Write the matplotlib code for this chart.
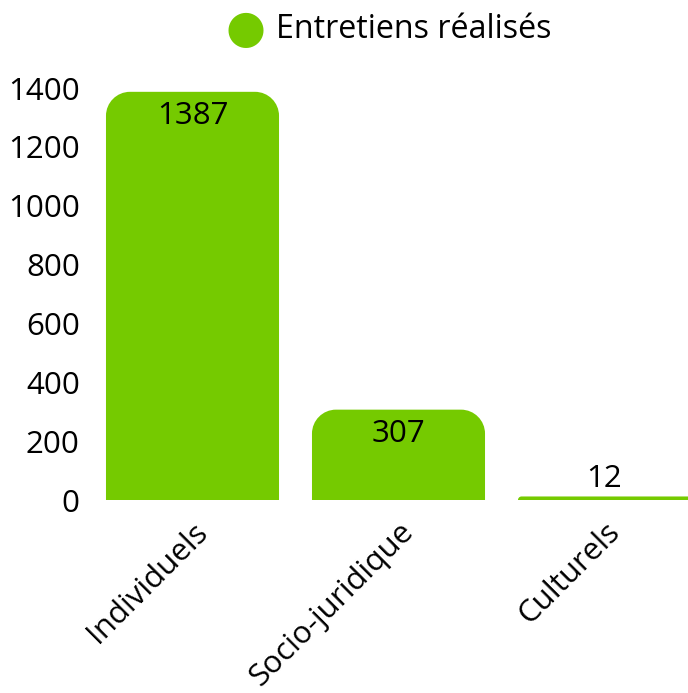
import matplotlib.pyplot as plt
from matplotlib.path import Path
from matplotlib.patches import PathPatch

plt.rcParams['font.family'] = ['Open Sans', 'DejaVu Sans']

categories = ['Individuels', 'Socio-juridique', 'Culturels']
values = [1387, 307, 12]
series_name = 'Entretiens réalisés'
green = '#75CA00'

W, H = 688, 693
fig = plt.figure(figsize=(W / 100, H / 100), dpi=100)

# axes box in pixels: left 89.5, bottom at y=500, top at y=88
left_px, right_px = 89.5, 688
ax = fig.add_axes([left_px / W, (H - 500) / H, (right_px - left_px) / W, (500 - 88) / H])
slot_px = 206
x_hi = -0.5 + (right_px - left_px) / slot_px
ax.set_xlim(-0.5, x_hi)
ax.set_ylim(0, 1400)

px_per_x = slot_px
px_per_y = 412 / 1400
bar_w = 0.84
radius_px = 24
fs = 22.5


def rounded_bar(x, h):
    x0, x1 = x - bar_w / 2, x + bar_w / 2
    r_px = min(radius_px, h * px_per_y)
    rx = r_px / px_per_x
    ry = r_px / px_per_y
    k = 0.5523
    verts = [
        (x0, 0), (x0, h - ry),
        (x0, h - ry + k * ry), (x0 + rx - k * rx, h), (x0 + rx, h),
        (x1 - rx, h),
        (x1 - rx + k * rx, h), (x1, h - ry + k * ry), (x1, h - ry),
        (x1, 0), (x0, 0),
    ]
    codes = [Path.MOVETO, Path.LINETO,
             Path.CURVE4, Path.CURVE4, Path.CURVE4,
             Path.LINETO,
             Path.CURVE4, Path.CURVE4, Path.CURVE4,
             Path.LINETO, Path.CLOSEPOLY]
    return PathPatch(Path(verts, codes), facecolor=green, edgecolor='none')


for i, v in enumerate(values):
    ax.add_patch(rounded_bar(i, v))
    if v * px_per_y > 40:
        ax.annotate(str(v), (i, v), xytext=(0, -6.5), textcoords='offset points',
                    ha='center', va='top', fontsize=fs)
    else:
        ax.annotate(str(v), (i, v), xytext=(0, 2), textcoords='offset points',
                    ha='center', va='bottom', fontsize=fs)

ax.set_yticks(range(0, 1401, 200))
ax.set_xticks(range(len(categories)))
ax.set_xticklabels(categories, rotation=45, ha='right', va='top',
                   rotation_mode='anchor', fontsize=fs)
ax.tick_params(axis='y', labelsize=fs, length=0, pad=7)
ax.tick_params(axis='x', length=0, pad=12)
for s in ax.spines.values():
    s.set_visible(False)

# legend drawn as marker + text at the top
fig.text(245 / W, 1 - 30 / H, '\u25cf', color=green, fontsize=33,
         ha='center', va='center', family='DejaVu Sans')
fig.text(276 / W, 1 - 30 / H, series_name, fontsize=23.2, ha='left', va='center')

fig.savefig('out.png', dpi=100)
